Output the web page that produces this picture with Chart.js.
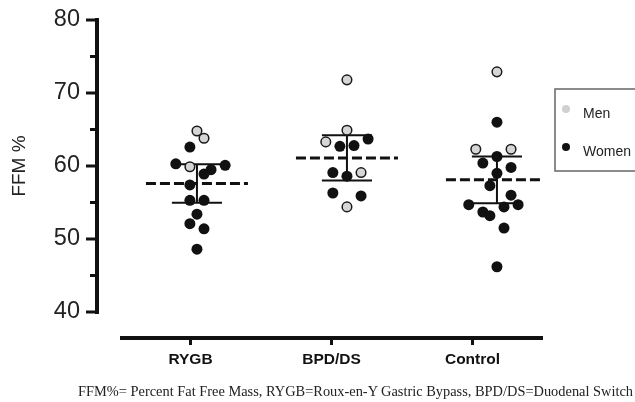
<!DOCTYPE html>
<html>
<head>
<meta charset="utf-8">
<script src="https://cdn.jsdelivr.net/npm/chart.js@4.4.0/dist/chart.umd.min.js"></script>
<style>
  html, body { margin: 0; padding: 0; background: #fff; }
  #wrap { position: relative; width: 635px; height: 402px; }
  #caption {
    position: absolute; left: 78px; top: 383px;
    font-family: 'Liberation Serif', 'Times New Roman', serif;
    font-size: 14.4px; color: #222; white-space: nowrap;
  }
</style>
</head>
<body>
<div id="wrap">
  <canvas id="myChart" width="635" height="402"></canvas>
  <div id="caption">FFM%= Percent Fat Free Mass, RYGB=Roux-en-Y Gastric Bypass, BPD/DS=Duodenal Switch</div>
</div>
<script>
const groups = ['RYGB', 'BPD/DS', 'Control'];
const yTickLabels = [40, 50, 60, 70, 80];

// FFM % per patient; jitter is the sideways spread in dot steps
const rygbMen = [64.8, 63.8, 59.9];
const rygbMenJitter = [0, 1, -1];
const rygbWomen = [62.6, 60.3, 60.1, 59.5, 58.9, 57.4, 55.3, 55.3, 53.4, 52.1, 51.4, 48.6];
const rygbWomenJitter = [-1, -3, 4, 2, 1, -1, -1, 1, 0, -1, 1, 0];

const bpdMen = [71.8, 64.9, 63.3, 59.1, 54.4];
const bpdMenJitter = [0, 0, -3, 2, 0];
const bpdWomen = [62.7, 62.8, 63.7, 59.1, 58.6, 56.3, 55.9];
const bpdWomenJitter = [-1, 1, 3, -2, 0, -2, 2];

const controlMen = [72.9, 62.3, 62.3];
const controlMenJitter = [0, -3, 2];
const controlWomen = [66.0, 61.3, 60.4, 59.8, 59.0, 57.3, 56.0, 54.7, 54.4, 54.7, 53.7, 53.2, 51.5, 46.2];
const controlWomenJitter = [0, 0, -2, 2, 0, -1, 2, -4, 1, 3, -2, -1, 1, 0];

// group mean and standard deviation
const groupMeans = [57.6, 61.1, 58.1];
const groupSD = [2.65, 3.1, 3.2];

const step = 0.047;      // one jitter step on the data axis
const meanHalf = 0.34;   // half width of dashed mean line
const capHalf = 0.167;   // half width of SD whiskers

function toPoints(groupIndex, values, jitter) {
    return values.map((v, i) => ({ x: groupIndex + 1 + jitter[i] * step, y: v }));
}

const menPoints = [
    ...toPoints(0, rygbMen, rygbMenJitter),
    ...toPoints(1, bpdMen, bpdMenJitter),
    ...toPoints(2, controlMen, controlMenJitter)
];
const womenPoints = [
    ...toPoints(0, rygbWomen, rygbWomenJitter),
    ...toPoints(1, bpdWomen, bpdWomenJitter),
    ...toPoints(2, controlWomen, controlWomenJitter)
];

const meanLines = [];
const sdBars = [];
groupMeans.forEach((m, i) => {
    const c = i + 1;
    const hi = m + groupSD[i];
    const lo = m - groupSD[i];
    meanLines.push({ x: c - meanHalf, y: m }, { x: c + meanHalf, y: m }, { x: c, y: null });
    sdBars.push(
        { x: c - capHalf, y: hi }, { x: c + capHalf, y: hi }, { x: c, y: null },
        { x: c, y: hi }, { x: c, y: lo }, { x: c, y: null },
        { x: c - capHalf, y: lo }, { x: c + capHalf, y: lo }, { x: c, y: null }
    );
});

// axes in Prism style (offset from plot area) and the boxed legend
const prismAxes = {
    id: 'prismAxes',
    afterDraw(chart) {
        const { ctx, chartArea } = chart;
        const y = chart.scales.y;
        const x = chart.scales.x;
        ctx.save();
        ctx.strokeStyle = '#111';
        ctx.lineCap = 'butt';

        // y axis
        const ax = chartArea.left - 23;
        ctx.lineWidth = 4;
        ctx.beginPath();
        ctx.moveTo(ax, y.getPixelForValue(80) - 2);
        ctx.lineTo(ax, y.getPixelForValue(40) + 2);
        ctx.stroke();
        ctx.lineWidth = 3;
        for (let v = 40; v <= 80; v += 5) {
            const py = y.getPixelForValue(v);
            const len = yTickLabels.includes(v) ? 11 : 7;
            ctx.beginPath();
            ctx.moveTo(ax - len, py);
            ctx.lineTo(ax, py);
            ctx.stroke();
        }

        // x axis
        const ay = chartArea.bottom + 26;
        ctx.lineWidth = 4;
        ctx.beginPath();
        ctx.moveTo(chartArea.left, ay);
        ctx.lineTo(chartArea.right, ay);
        ctx.stroke();
        ctx.lineWidth = 3;
        groups.forEach((g, i) => {
            const px = x.getPixelForTick(i);
            ctx.beginPath();
            ctx.moveTo(px, ay);
            ctx.lineTo(px, ay + 7);
            ctx.stroke();
        });

        // legend box
        ctx.strokeStyle = '#666';
        ctx.lineWidth = 1.5;
        ctx.strokeRect(555, 89, 100, 82);
        ctx.fillStyle = '#d0d0d0';
        ctx.beginPath();
        ctx.arc(566, 109, 4, 0, Math.PI * 2);
        ctx.fill();
        ctx.fillStyle = '#111';
        ctx.beginPath();
        ctx.arc(566, 147, 4, 0, Math.PI * 2);
        ctx.fill();
        ctx.font = '14px "Liberation Sans", Arial, sans-serif';
        ctx.textBaseline = 'middle';
        ctx.fillStyle = '#222';
        ctx.fillText('Men', 583, 114);
        ctx.fillText('Women', 583, 152);
        ctx.restore();
    }
};

const ctx = document.getElementById('myChart').getContext('2d');
const myChart = new Chart(ctx, {
    type: 'scatter',
    data: {
        datasets: [
            {
                label: 'Men',
                data: menPoints,
                xAxisID: 'xd',
                pointRadius: 4.8,
                pointBackgroundColor: '#d6d6d6',
                pointBorderColor: '#1a1a1a',
                pointBorderWidth: 1.5,
                order: 0
            },
            {
                label: 'Women',
                data: womenPoints,
                xAxisID: 'xd',
                pointRadius: 5.5,
                pointBackgroundColor: '#111',
                pointBorderColor: '#111',
                pointBorderWidth: 0,
                order: 0
            },
            {
                label: 'Mean',
                data: meanLines,
                xAxisID: 'xd',
                showLine: true,
                pointRadius: 0,
                borderColor: '#111',
                borderWidth: 3,
                borderDash: [10, 4],
                spanGaps: false,
                order: 1
            },
            {
                label: 'SD',
                data: sdBars,
                xAxisID: 'xd',
                showLine: true,
                pointRadius: 0,
                borderColor: '#111',
                borderWidth: 2,
                spanGaps: false,
                order: 1
            }
        ]
    },
    options: {
        responsive: false,
        animation: false,
        layout: { padding: { top: 20, right: 92, bottom: 0, left: 0 } },
        plugins: {
            legend: { display: false },
            tooltip: { enabled: false }
        },
        scales: {
            x: {
                type: 'category',
                labels: groups,
                offset: true,
                position: 'bottom',
                grid: { display: false, drawTicks: false },
                border: { display: false },
                ticks: {
                    padding: 38,
                    color: '#111',
                    font: { family: '"Liberation Sans", Arial, sans-serif', size: 15.5, weight: 'bold' }
                },
                afterFit: (scale) => { scale.height = 90; }
            },
            xd: {
                type: 'linear',
                display: false,
                min: 0.487,
                max: 3.307
            },
            y: {
                min: 40,
                max: 80,
                grid: { display: false, drawTicks: false },
                border: { display: false },
                ticks: {
                    stepSize: 10,
                    padding: 40,
                    color: '#222',
                    font: { family: '"Liberation Sans", Arial, sans-serif', size: 23.5 }
                },
                title: {
                    display: true,
                    text: 'FFM %',
                    color: '#222',
                    padding: { top: 8, bottom: 0 },
                    font: { family: '"Liberation Sans", Arial, sans-serif', size: 19 }
                },
                afterFit: (scale) => {
                    scale.width = 120;
                    // the big tick padding is only meant to push labels left
                    scale.paddingTop = 13;
                    scale.paddingBottom = 13;
                }
            }
        }
    },
    plugins: [prismAxes]
});
</script>
</body>
</html>
